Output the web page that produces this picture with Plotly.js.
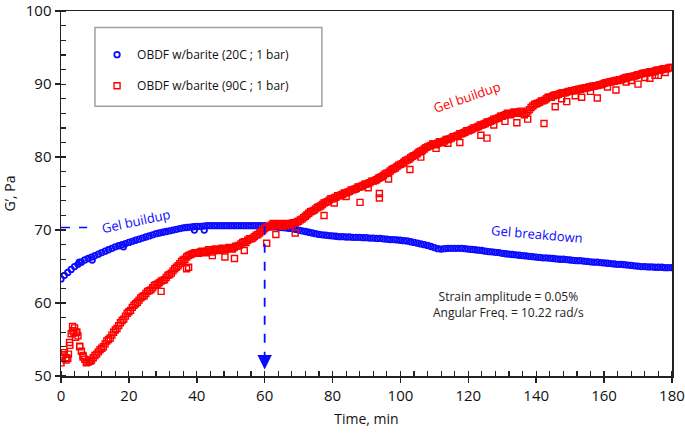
<!DOCTYPE html>
<html>
<head>
<meta charset="utf-8">
<script src="https://cdn.plot.ly/plotly-3.0.1.min.js"></script>
<style>
  html, body { margin: 0; padding: 0; background: #fff; }
  #plot { width: 685px; height: 441px; }
</style>
</head>
<body>
<div id="plot"></div>
<script>
// time grid, min
var time = [0,1,2,3,4,5,6,7,8,9,10,11,12,13,14,15,16,17,18,19,20,21,22,23,24,25,26,27,28,29,
  30,31,32,33,34,35,36,37,38,39,40,41,42,43,44,45,46,47,48,49,50,51,52,53,54,55,56,57,58,59,
  60,61,62,63,64,65,66,67,68,69,70,71,72,73,74,75,76,77,78,79,80,81,82,83,84,85,86,87,88,89,
  90,91,92,93,94,95,96,97,98,99,100,101,102,103,104,105,106,107,108,109,110,111,112,113,114,115,116,117,118,119,
  120,121,122,123,124,125,126,127,128,129,130,131,132,133,134,135,136,137,138,139,140,141,142,143,144,145,146,147,148,149,
  150,151,152,153,154,155,156,157,158,159,160,161,162,163,164,165,166,167,168,169,170,171,172,173,174,175,176,177,178,179,180];
// in-between readings of the 90C run
var halfTime = [0.5,1.5,2.5,3.5,4.5,5.5,6.5,7.5,8.5,9.5,10.5,11.5,12.5,13.5,14.5,15.5,16.5,17.5,18.5,19.5,
  20.5,21.5,22.5,23.5,24.5,25.5,26.5,27.5,28.5,29.5,30.5,31.5,32.5,33.5,34.5,35.5,36.5,37.5,38.5,39.5,
  40.5,41.5,42.5,43.5,44.5,45.5,46.5,47.5,48.5,49.5,50.5,51.5,52.5,53.5,54.5,55.5,56.5,57.5,58.5,59.5,
  60.5,61.5,62.5,63.5,64.5,65.5,66.5,67.5,68.5,69.5,70.5,71.5,72.5,73.5,74.5,75.5,76.5,77.5,78.5,79.5,
  80.5,81.5,82.5,83.5,84.5,85.5,86.5,87.5,88.5,89.5,90.5,91.5,92.5,93.5,94.5,95.5,96.5,97.5,98.5,99.5,
  100.5,101.5,102.5,103.5,104.5,105.5,106.5,107.5,108.5,109.5,110.5,111.5,112.5,113.5,114.5,115.5,116.5,117.5,118.5,119.5,
  120.5,121.5,122.5,123.5,124.5,125.5,126.5,127.5,128.5,129.5,130.5,131.5,132.5,133.5,134.5,135.5,136.5,137.5,138.5,139.5,
  140.5,141.5,142.5,143.5,144.5,145.5,146.5,147.5,148.5,149.5,150.5,151.5,152.5,153.5,154.5,155.5,156.5,157.5,158.5,159.5,
  160.5,161.5,162.5,163.5,164.5,165.5,166.5,167.5,168.5,169.5,170.5,171.5,172.5,173.5,174.5,175.5,176.5,177.5,178.5,179.5];

// G' at 20C, Pa
var blue20C = [
  63.3,63.8,64.2,64.6,65.0,65.3,65.6,65.9,66.1,66.3,
  66.5,66.7,66.9,67.1,67.3,67.5,67.7,67.85,68.0,68.15,
  68.3,68.45,68.6,68.75,68.9,69.05,69.2,69.35,69.5,69.6,
  69.7,69.8,69.9,70.0,70.1,70.2,70.3,70.35,70.4,70.45,
  70.5,70.5,70.55,70.6,70.6,70.6,70.6,70.6,70.6,70.6,
  70.6,70.6,70.6,70.6,70.6,70.6,70.6,70.6,70.6,70.6,
  70.6,70.55,70.5,70.45,70.4,70.35,70.3,70.25,70.2,70.1,
  70.0,69.9,69.8,69.7,69.6,69.5,69.4,69.35,69.3,69.25,
  69.2,69.15,69.1,69.1,69.05,69.05,69.0,69.0,69.0,68.95,
  68.95,68.9,68.9,68.85,68.85,68.8,68.75,68.7,68.7,68.65,
  68.6,68.55,68.5,68.4,68.3,68.2,68.1,68.0,67.9,67.75,
  67.6,67.45,67.4,67.45,67.5,67.5,67.5,67.5,67.5,67.45,
  67.4,67.35,67.3,67.25,67.2,67.1,67.05,67.0,66.95,66.9,
  66.8,66.75,66.7,66.65,66.6,66.55,66.5,66.45,66.4,66.35,
  66.3,66.25,66.2,66.2,66.15,66.1,66.05,66.0,66.0,65.95,
  65.9,65.85,65.8,65.8,65.75,65.7,65.65,65.6,65.6,65.55,
  65.5,65.45,65.4,65.35,65.3,65.3,65.25,65.2,65.15,65.1,
  65.05,65.0,65.0,64.95,64.95,64.9,64.9,64.9,64.85,64.85,
  64.85];
var blueExtraTime = [5.4, 9.2, 18.4, 39.3, 42.2];
var blueExtraValue = [65.6, 65.9, 67.7, 70.0, 70.0];

// G' at 90C, Pa
var red90C = [
  51.8,53.2,52.4,55.8,56.6,55.5,53.4,52.3,51.9,52.2,
  52.8,53.3,53.8,54.4,55.0,55.6,56.3,56.9,57.6,58.2,
  58.8,59.4,59.9,60.4,60.9,61.3,61.7,62.1,62.5,62.8,
  63.1,63.5,63.9,64.4,64.9,65.4,65.9,66.3,66.6,66.8,
  66.9,67.0,67.0,67.1,67.15,67.2,67.3,67.3,67.4,67.45,
  67.5,67.6,67.8,68.1,68.4,68.6,68.8,69.1,69.4,69.8,
  70.2,70.5,70.7,70.8,70.8,70.7,70.7,70.8,70.9,71.0,
  71.2,71.5,71.9,72.3,72.6,72.9,73.2,73.5,73.8,74.1,
  74.3,74.5,74.7,74.9,75.1,75.3,75.5,75.7,75.9,76.1,
  76.3,76.5,76.7,76.9,77.2,77.5,77.8,78.1,78.4,78.7,
  79.0,79.3,79.6,79.9,80.2,80.5,80.8,81.1,81.4,81.6,
  81.8,81.9,82.0,82.2,82.4,82.6,82.8,83.0,83.2,83.4,
  83.6,83.8,84.0,84.2,84.4,84.6,84.8,85.0,85.2,85.4,
  85.6,85.8,85.9,86.0,86.1,86.2,86.1,86.0,86.5,87.0,
  87.3,87.5,87.7,88.0,88.2,88.4,88.5,88.7,88.8,88.9,
  89.0,89.1,89.2,89.3,89.4,89.5,89.6,89.7,89.8,89.9,
  90.1,90.2,90.3,90.4,90.5,90.6,90.8,90.9,91.0,91.1,
  91.3,91.4,91.5,91.6,91.7,91.8,91.9,92.0,92.1,92.2,
  92.3];
var red90CHalf = [
  52.9,52.2,54.6,56.2,56.0,54.0,52.8,51.9,52.0,52.5,
  53.0,53.6,54.0,54.8,55.2,56.0,56.5,57.3,57.8,58.6,
  59.0,59.7,60.1,60.7,61.0,61.6,61.8,62.4,62.6,63.0,
  63.2,63.8,64.1,64.7,65.1,65.7,66.0,66.5,66.7,66.9,
  66.8,67.1,66.9,67.3,67.0,67.4,67.2,67.5,67.3,67.6,
  67.4,67.8,67.9,68.3,68.3,68.8,68.9,69.3,69.6,70.0,
  70.4,70.4,70.9,70.6,70.9,70.5,70.9,70.7,71.0,71.1,
  71.4,71.7,72.1,72.5,72.7,73.1,73.3,73.7,73.9,74.3,
  74.4,74.7,74.8,75.1,75.2,75.5,75.6,75.9,76.0,76.3,
  76.4,76.7,76.8,77.1,77.3,77.7,77.9,78.3,78.5,78.9,
  79.1,79.5,79.7,80.1,80.3,80.7,80.9,81.3,81.5,81.8,
  81.7,82.1,82.0,82.4,82.5,82.8,82.9,83.2,83.3,83.6,
  83.7,84.0,84.1,84.4,84.5,84.8,84.9,85.2,85.3,85.6,
  85.7,86.0,85.8,86.2,86.0,86.3,85.8,86.3,86.8,87.2,
  87.4,87.7,87.8,88.2,88.2,88.5,88.6,88.8,88.8,89.0,
  89.1,89.2,89.3,89.4,89.5,89.6,89.7,89.8,89.9,90.0,
  90.2,90.3,90.4,90.5,90.6,90.7,90.9,91.0,91.1,91.2,
  91.3,91.5,91.5,91.7,91.7,91.9,91.9,92.1,92.1,92.3];
var redExtraTime = [0.3,0.6,1.5,2.2,2.6,3.4,3.8,4.3,4.7,5.5,6.5,7.5,8.5,
  29.5,37,37.6,44.6,48.3,51.1,54,60.6,63.3,69,
  77.5,80.5,84,88.1,90.5,93.8,93.8,96.5,102.8,106,110.5,114,117.5,123.7,125.5,127.5,130.8,134.3,137.5,
  142.3,145.6,147.5,149,151.5,153.4,156,158,161,163.5,166.5,168,170,172,173.5,175,176,178];
var redExtraValue = [52.6,52.9,52.5,53.0,54.2,56.8,55.9,55.3,56.0,54.1,52.6,51.8,52.0,
  61.6,64.7,64.9,66.5,66.3,66.1,67.2,68.2,69.4,69.6,
  72.0,73.7,74.6,73.8,75.8,75.0,74.4,77.0,78.3,80.0,81.2,81.9,82.0,83.0,82.6,84.4,84.9,84.7,85.2,
  84.6,86.9,88.0,87.6,88.4,88.2,89.0,88.1,89.6,89.2,90.3,90.5,90.0,90.9,90.8,91.2,91.2,91.6];

var blue = '#0a0aff';
var red = '#ff0000';
var font = 'Open Sans, Noto Sans, sans-serif';

var traces = [
  {
    x: time.concat(blueExtraTime),
    y: blue20C.concat(blueExtraValue),
    mode: 'markers',
    name: 'OBDF w/barite (20C ; 1 bar)',
    legendgroup: 'a',
    marker: {symbol: 'circle-open', size: 5.5, color: blue, line: {width: 1.8, color: blue}}
  },
  {
    x: time.concat(halfTime, redExtraTime),
    y: red90C.concat(red90CHalf, redExtraValue),
    mode: 'markers',
    name: 'OBDF w/barite (90C ; 1 bar)',
    legendgroup: 'b',
    marker: {symbol: 'square-open', size: 6, color: red, line: {width: 1.4, color: red}}
  }
];

var axisCommon = {
  showgrid: false, zeroline: false,
  showline: true, linecolor: '#222', linewidth: 1.5, mirror: true,
  ticks: 'outside', ticklen: 5, tickwidth: 1.5, tickcolor: '#222',
  ticklabeloverflow: 'allow',
  tickfont: {size: 15, color: '#111'}
};

var layout = {
  width: 685, height: 441,
  margin: {l: 61, r: 13, t: 11, b: 65},
  paper_bgcolor: '#fff', plot_bgcolor: '#fff',
  font: {family: font, color: '#111'},
  showlegend: true,
  legend: {
    x: 0.059, y: 0.92, xanchor: 'left', yanchor: 'top',
    bgcolor: 'rgba(0,0,0,0)', borderwidth: 0,
    font: {size: 12, color: '#111'},
    tracegroupgap: 12, traceorder: 'grouped'
  },
  xaxis: Object.assign({}, axisCommon, {
    range: [0, 180.01], tick0: 0, dtick: 20,
    minor: {dtick: 4, ticks: 'inside', ticklen: 5, tickwidth: 1.2, tickcolor: '#222', showgrid: false},
    title: {text: 'Time, min', font: {size: 14}, standoff: 10}
  }),
  yaxis: Object.assign({}, axisCommon, {
    range: [50, 100.02], tick0: 50, dtick: 10,
    minor: {dtick: 2, ticks: 'inside', ticklen: 5, tickwidth: 1.2, tickcolor: '#222', showgrid: false},
    title: {text: 'G\u2019, Pa', font: {size: 14}, standoff: 10}
  }),
  shapes: [
    // legend frame
    {type: 'rect', xref: 'paper', yref: 'paper', x0: 0.0556, x1: 0.427, y0: 0.739, y1: 0.955,
     line: {color: '#a0a0a0', width: 1.5}},
    // gel buildup reference level
    {type: 'line', x0: 0, x1: 7.7, y0: 70.35, y1: 70.35, line: {color: blue, width: 1.5, dash: 'dash'}},
    // drop line at 60 min
    {type: 'line', x0: 60, x1: 60, y0: 70.6, y1: 51.6, line: {color: blue, width: 1.8, dash: 'dash'}}
  ],
  annotations: [
    {x: 60, y: 50.9, ax: 0, ay: -9, text: '', showarrow: true, arrowhead: 2, arrowsize: 1.6,
     arrowwidth: 1.8, arrowcolor: blue},
    {x: 22.1, y: 71.3, text: 'Gel buildup', showarrow: false, textangle: -12,
     font: {size: 13, color: blue}},
    {x: 119.6, y: 88.2, text: 'Gel buildup', showarrow: false, textangle: -19,
     font: {size: 13, color: red}},
    {x: 140.2, y: 69.5, text: 'Gel breakdown', showarrow: false, textangle: 5,
     font: {size: 13, color: blue}},
    {x: 131.7, y: 59.8, text: 'Strain amplitude = 0.05%<br>Angular Freq. = 10.22 rad/s',
     showarrow: false, align: 'center', font: {size: 12, color: '#222'}}
  ]
};

Plotly.newPlot('plot', traces, layout, {displayModeBar: false, staticPlot: true});
</script>
</body>
</html>
